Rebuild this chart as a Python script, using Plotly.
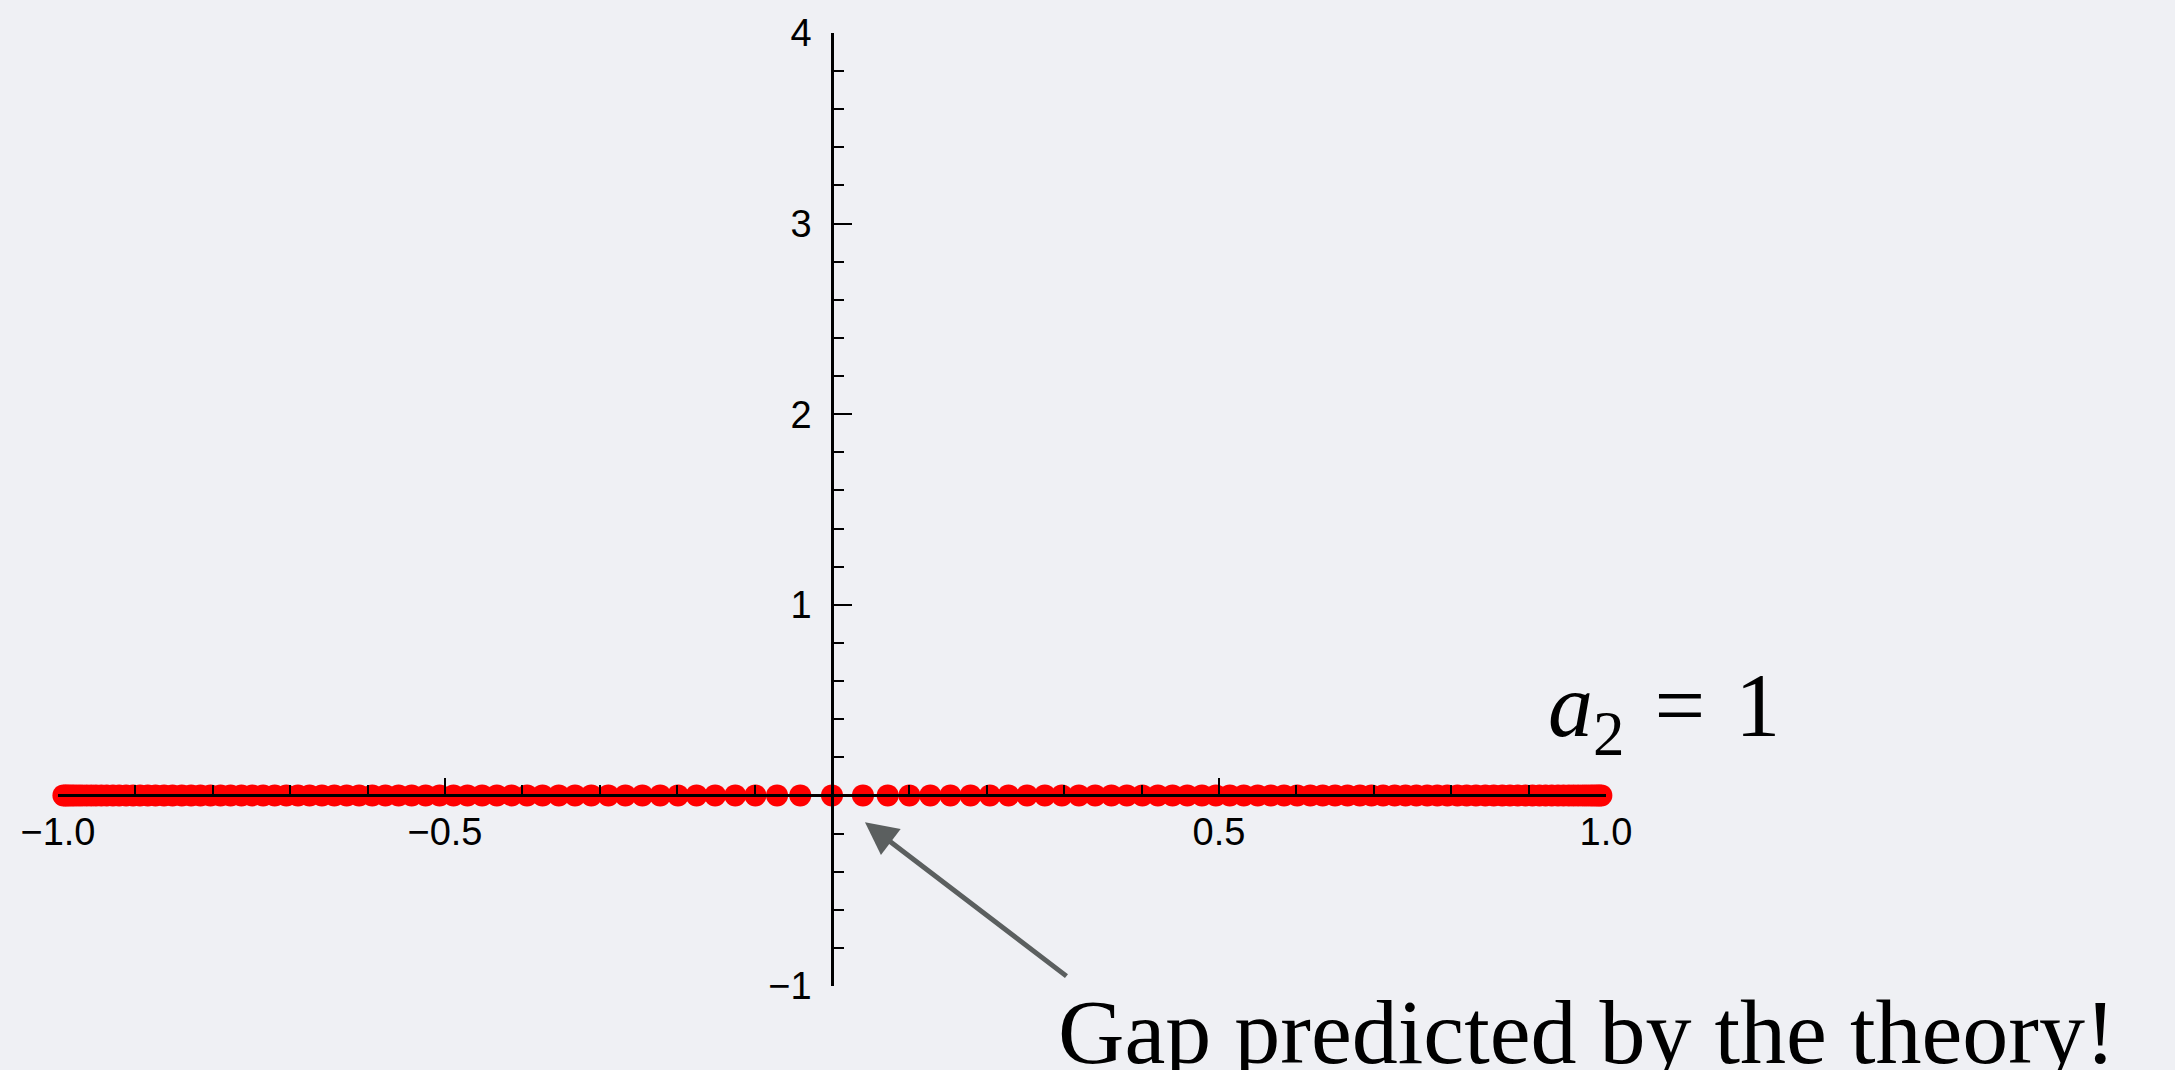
import plotly.graph_objects as go

# Spectrum points on the real axis (imaginary part zero)
x_left = [-0.993, -0.990, -0.987, -0.983, -0.979, -0.974, -0.969, -0.963, -0.957, -0.951,
          -0.944, -0.937, -0.929, -0.921, -0.912, -0.903, -0.894, -0.884, -0.874, -0.863,
          -0.852, -0.840, -0.828, -0.816, -0.803, -0.790, -0.777, -0.763, -0.749, -0.735,
          -0.720, -0.705, -0.690, -0.675, -0.659, -0.643, -0.627, -0.611, -0.594, -0.577,
          -0.560, -0.543, -0.525, -0.507, -0.489, -0.471, -0.452, -0.433, -0.414, -0.394,
          -0.374, -0.353, -0.332, -0.311, -0.289, -0.267, -0.245, -0.222, -0.199, -0.175,
          -0.151, -0.125, -0.099, -0.071, -0.041]
x_center = [0.0]
x_right = [0.040, 0.072, 0.100, 0.127, 0.153, 0.179, 0.204, 0.228, 0.252, 0.275,
           0.297, 0.319, 0.340, 0.361, 0.381, 0.401, 0.421, 0.440, 0.459, 0.478,
           0.496, 0.514, 0.532, 0.550, 0.567, 0.584, 0.601, 0.618, 0.634, 0.650,
           0.666, 0.682, 0.697, 0.712, 0.727, 0.741, 0.755, 0.769, 0.782, 0.795,
           0.808, 0.820, 0.832, 0.844, 0.855, 0.866, 0.876, 0.886, 0.896, 0.905,
           0.914, 0.922, 0.930, 0.938, 0.945, 0.952, 0.958, 0.964, 0.970, 0.975,
           0.980, 0.984, 0.988, 0.991, 0.994]
x_points = x_left + x_center + x_right
y_points = [0.0] * len(x_points)

# Axis ticks and labels
x_tickvals = [-1.0, -0.5, 0.5, 1.0]
x_ticktext = ["\u22121.0", "\u22120.5", "0.5", "1.0"]
y_tickvals = [-1, 1, 2, 3, 4]
y_ticktext = ["\u22121", "1", "2", "3", "4"]

W, H = 2175, 1070
BG = "#eff0f4"
label_font = dict(family="Liberation Sans, Arial, sans-serif", size=38, color="black")

fig = go.Figure()
fig.add_trace(go.Scatter(
    x=x_points, y=y_points, mode="markers",
    marker=dict(color="#ff0000", size=22, line=dict(width=0)),
    cliponaxis=False, showlegend=False, hoverinfo="x",
))

fig.update_layout(
    width=W, height=H,
    margin=dict(l=58, r=569, t=28, b=84),
    paper_bgcolor=BG, plot_bgcolor=BG,
    showlegend=False,
    xaxis=dict(
        range=[-1, 1], anchor="free", position=0.2,
        showgrid=False, zeroline=False,
        showline=True, linecolor="black", linewidth=2.5,
        tickmode="array", tickvals=x_tickvals, ticktext=x_ticktext,
        ticks="inside", ticklen=17, tickwidth=2, tickcolor="black",
        ticklabelstandoff=2,
        minor=dict(dtick=0.1, tick0=0, ticks="inside", ticklen=10,
                   tickwidth=2, tickcolor="black", showgrid=False),
        tickfont=label_font,
    ),
    yaxis=dict(
        range=[-1, 4], anchor="free", position=0.5,
        showgrid=False, zeroline=False,
        showline=True, linecolor="black", linewidth=2.5,
        tickmode="array", tickvals=y_tickvals, ticktext=y_ticktext,
        ticks="inside", ticklen=18, tickwidth=2, tickcolor="black",
        ticklabelstandoff=12,
        minor=dict(dtick=0.2, tick0=0, ticks="inside", ticklen=10,
                   tickwidth=2, tickcolor="black", showgrid=False),
        tickfont=label_font,
    ),
)

serif = "Liberation Serif, Times New Roman, serif"

# Parameter label
fig.add_annotation(
    x=0.961, y=0.226, xref="paper", yref="paper",
    xanchor="left", yanchor="bottom",
    text="<i>a</i><sub>2</sub>\u200a = \u200a1",
    showarrow=False,
    font=dict(family=serif, size=90, color="black"),
)

# Arrow pointing at the first point right of the origin
fig.add_annotation(
    x=0.0426, y=-0.141, xref="x", yref="y",
    ax=203, ay=155, axref="pixel", ayref="pixel",
    text="", showarrow=True,
    arrowhead=2, arrowsize=1.3, arrowwidth=5, arrowcolor="#5b5f5f",
)
# Callout text
fig.add_annotation(
    x=0.645, y=-0.104, xref="paper", yref="paper",
    xanchor="left", yanchor="bottom",
    text="Gap predicted by the theory!",
    showarrow=False,
    font=dict(family=serif, size=92, color="black"),
)

fig.write_html("out.html")
